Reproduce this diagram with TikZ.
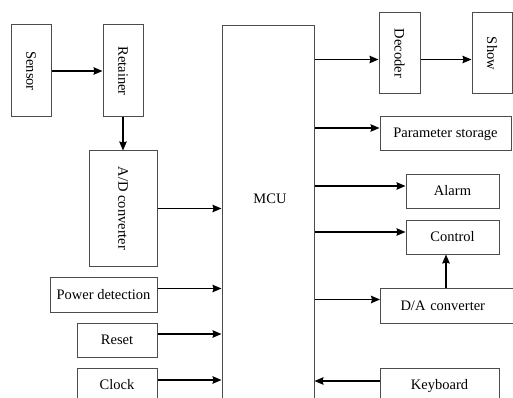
\documentclass[tikz,border=0pt]{standalone}
\usepackage{fontspec}
\setmainfont{Liberation Serif}
\newfontfamily\boxfont{Liberation Serif}
\usetikzlibrary{arrows.meta,positioning}

\tikzset{
  box/.style={draw=black!70,line width=1pt,inner sep=0pt,
    font=\boxfont\fontsize{14.5}{17}\selectfont},
  vbox/.style={box,rotate=-90},
  sig/.style={->,line width=1.5pt}
}

\begin{document}
\begin{tikzpicture}[x=1pt,y=-1pt,>={Stealth[length=9pt,width=7.5pt,inset=1pt]}]
  \useasboundingbox (0,0) rectangle (513,398);
  \clip (0,0) rectangle (513,398);

  % input side
  \node[vbox,minimum width=92,minimum height=40] (sensor) at (31,71) {Sensor};
  \node[vbox,minimum width=92,minimum height=40] (retainer) at (123,71) {Retainer};
  \node[vbox,minimum width=115,minimum height=68] (adc) at (123,208.5) {A/D converter};
  \node[box,minimum width=107,minimum height=35] (power) at (103.5,294.5) {Power detection};
  \node[box,minimum width=80,minimum height=34] (reset) at (117,340) {Reset};
  \node[box,minimum width=80,minimum height=34] (clock) at (117,385) {Clock};

  % mcu
  \node[box,anchor=north,minimum width=92,minimum height=400] (mcu) at (268,25) {};
  \node[font=\boxfont\fontsize{14.5}{17}\selectfont] (mcutext) at (270,199) {MCU};

  % output side
  \node[vbox,minimum width=81,minimum height=41] (decoder) at (399.5,53.5) {Decoder};
  \node[vbox,minimum width=81,minimum height=40] (show) at (492,53.5) {Show};
  \node[box,minimum width=131,minimum height=34] (pstore) at (445.5,134) {Parameter storage};
  \node[box,minimum width=93,minimum height=34] (alarm) at (452.5,191) {Alarm};
  \node[box,minimum width=93,minimum height=34] (control) at (452.5,237) {Control};
  \node[box,anchor=west,minimum height=35,inner xsep=20pt,text width=120,align=left] (dac) at (380,305.5) {D/A converter};
  \node[box,minimum width=119,minimum height=36] (keyboard) at (439.5,386) {Keyboard};

  \draw[sig] (sensor) -- (retainer);
  \draw[sig] (retainer) -- (adc);
  \draw[sig] (adc) -- (adc -| mcu.west);
  \draw[sig] ([yshift=6pt]power.east) -- ([yshift=6pt]power.east -| mcu.west);
  \draw[sig] ([yshift=6pt]reset.east) -- ([yshift=6pt]reset.east -| mcu.west);
  \draw[sig] ([yshift=5pt]clock.east) -- ([yshift=5pt]clock.east -| mcu.west);

  \draw[sig] ([yshift=-6pt]decoder.south -| mcu.east) -- ([yshift=-6pt]decoder.south);
  \draw[sig] ([yshift=-6pt]decoder.north) -- ([yshift=-6pt]show.south);
  \draw[sig] ([yshift=6pt]pstore.west -| mcu.east) -- ([yshift=6pt]pstore.west);
  \draw[sig] ([yshift=5pt]alarm.west -| mcu.east) -- ([yshift=5pt]alarm.west);
  \draw[sig] ([yshift=5pt]control.west -| mcu.east) -- ([yshift=5pt]control.west);
  \draw[sig] ([yshift=6pt]dac.west -| mcu.east) -- ([yshift=6pt]dac.west);
  \draw[sig] ([xshift=-6.5pt]control.south |- dac.north) -- ([xshift=-6.5pt]control.south);
  \draw[sig] ([yshift=5pt]keyboard.west) -- ([yshift=5pt]keyboard.west -| mcu.east);
\end{tikzpicture}
\end{document}
